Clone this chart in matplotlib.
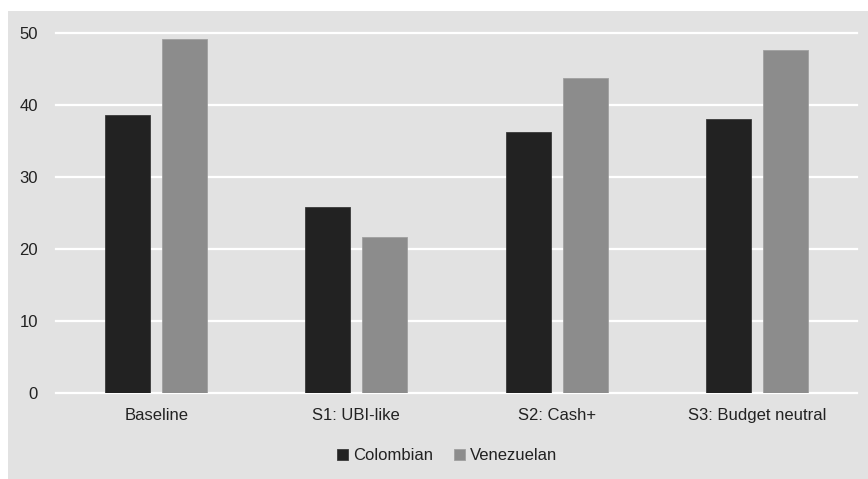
import os

os.environ.setdefault("MPLBACKEND", "Agg")

import matplotlib.pyplot as plt
import numpy as np
from matplotlib.patches import Rectangle

################################################################################
# data                                                                         #
################################################################################
scenarios = ["Baseline", "S1: UBI-like", "S2: Cash+", "S3: Budget neutral"]
colombian = [38.6, 25.8, 36.3, 38.0]
venezuelan = [49.1, 21.6, 43.8, 47.6]
yTicks = [0, 10, 20, 30, 40, 50]

################################################################################
# plot                                                                         #
################################################################################
plt.rcParams["font.family"] = ["Liberation Sans", "DejaVu Sans"]
plt.rcParams["font.size"] = 12

panelColor = "#e2e2e2"
darkColor = "#222222"
greyColor = "#8c8c8c"
textColor = "#222222"

fig = plt.figure(figsize=(8.68, 4.79), dpi=100)
fig.patch.set_facecolor("white")

# grey panel behind the whole chart, leaving a thin white margin top/left
fig.patches.append(
    Rectangle(
        (8 / 868, 0.0),
        1.0,
        1.0 - 11 / 479,
        transform=fig.transFigure,
        facecolor=panelColor,
        edgecolor="none",
        zorder=-1,
    )
)

ax = fig.add_axes([56 / 868, 1 - 393 / 479, 801 / 868, 360 / 479])
ax.set_facecolor("none")

x = np.arange(len(scenarios))
barWidth = 0.225
offset = 0.1425
ax.bar(x - offset, colombian, width=barWidth, color=darkColor,
       edgecolor="#3a3a3a", linewidth=0.6, zorder=3, label="Colombian")
ax.bar(x + offset, venezuelan, width=barWidth, color=greyColor,
       edgecolor="#a0a0a0", linewidth=0.6, zorder=3, label="Venezuelan")

ax.set_xlim(-0.5, len(scenarios) - 0.5)
ax.set_ylim(0, 50)
ax.set_yticks(yTicks)
ax.set_xticks(x)
ax.set_xticklabels(scenarios, color=textColor)
ax.tick_params(axis="y", length=0, pad=13, labelcolor=textColor)
ax.tick_params(axis="x", length=0, pad=11)

for val in yTicks:
    ax.axhline(val, color="white", linewidth=1.6, zorder=1, clip_on=False)

for spine in ax.spines.values():
    spine.set_visible(False)

fig.legend(
    loc="center",
    bbox_to_anchor=(447 / 868, 1 - 456 / 479),
    ncol=2,
    frameon=False,
    handlelength=0.66,
    handleheight=0.66,
    handletextpad=0.3,
    columnspacing=1.25,
    labelcolor=textColor,
)

fig.savefig("out.png", dpi=100, facecolor=fig.get_facecolor())
